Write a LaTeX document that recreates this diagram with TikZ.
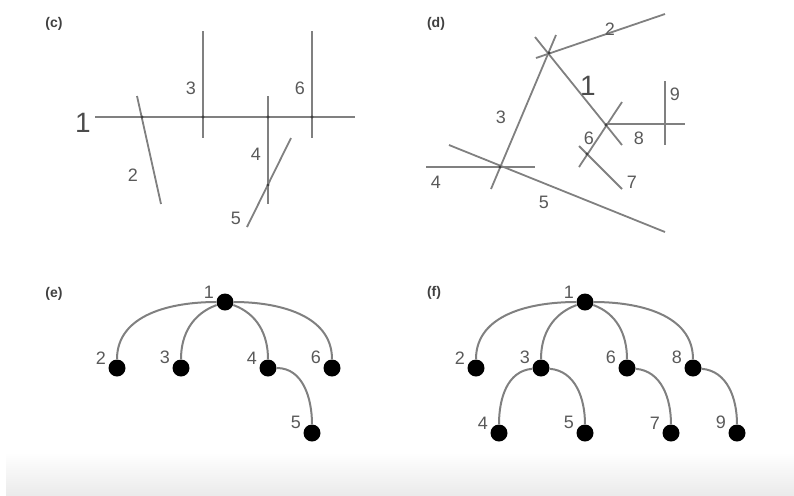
\documentclass[tikz,border=0pt]{standalone}
\usepackage{fontspec}
\setmainfont{Liberation Sans}
\usetikzlibrary{positioning}

\begin{document}
\begin{tikzpicture}[
  x=0.5pt, y=-0.5pt,
  seg/.style={draw=black!50, line width=0.9pt},
  joint/.style={circle, fill=black!75, inner sep=0pt, minimum size=1.6pt},
  num/.style={text=black!65, inner sep=1pt, font=\fontsize{9}{10}\selectfont},
  bignum/.style={text=black!70, inner sep=1pt, font=\fontsize{14}{15}\selectfont},
  panel/.style={text=black!75, inner sep=1pt, font=\fontsize{7}{8}\selectfont\bfseries},
  dot/.style={circle, fill=black, inner sep=0pt, minimum size=8.5pt, label distance=2.8pt},
  lbl/.style={text=black!65, inner sep=1pt, font=\fontsize{9}{10}\selectfont},
  branch/.style={draw=black!50, line width=1pt}
]
\useasboundingbox (0,0) rectangle (794,495);
\shade[top color=white, bottom color=black!8] (6,452) rectangle (794,495);

% Panel labels
\node[panel] (pc) at (54,24) {(c)};
\node[panel] (pd) at (436,24) {(d)};
\node[panel] (pe) at (54,294) {(e)};
\node[panel] (pf) at (434,293) {(f)};

% (c) segments
\draw[seg] (95,117) -- (355,117);
\draw[seg] (137,96) -- (161,204);
\draw[seg] (203,31) -- (203,138);
\draw[seg] (268,96) -- (268,204);
\draw[seg] (247,227) -- (291,138);
\draw[seg] (312,31) -- (312,138);
\foreach \p in {(142,117),(203,117),(268,117),(312,117),(268,185)}
  \node[joint] at \p {};
\node[bignum] (c1) at (83,123) {1};
\node[num] (c2) at (133,175) {2};
\node[num] (c3) at (191,88) {3};
\node[num] (c4) at (256,154) {4};
\node[num] (c5) at (236,218) {5};
\node[num] (c6) at (300,88) {6};

% (d) segments
\draw[seg] (535,37) -- (622,145);
\draw[seg] (536,58) -- (665,14);
\draw[seg] (556,35) -- (491,189);
\draw[seg] (426,167) -- (535,167);
\draw[seg] (449,145) -- (665,232);
\draw[seg] (622,102) -- (579,167);
\draw[seg] (579,146) -- (622,189);
\draw[seg] (605,124) -- (685,124);
\draw[seg] (665,81) -- (665,145);
\foreach \p in {(549,53),(606,125),(500,167),(587,154)}
  \node[joint] at \p {};
\node[bignum] (d1) at (588,86) {1};
\node[num] (d2) at (610,29) {2};
\node[num] (d3) at (501,117) {3};
\node[num] (d4) at (436,182) {4};
\node[num] (d5) at (544,202) {5};
\node[num] (d6) at (589,138) {6};
\node[num] (d7) at (632,182) {7};
\node[num] (d8) at (639,138) {8};
\node[num] (d9) at (675,94) {9};

% (e) tree
\node[dot, label={[lbl]170:1}] (e1) at (225,302) {};
\node[dot, label={[lbl]170:2}] (e2) at (117,368) {};
\node[dot, label={[lbl]170:3}] (e3) at (181,368) {};
\node[dot, label={[lbl]170:4}] (e4) at (268,368) {};
\node[dot, label={[lbl]170:6}] (e6) at (332,368) {};
\node[dot, label={[lbl]170:5}] (e5) at (312,433) {};

\draw[branch] (e1) to[out=180, in=90] (e2);
\draw[branch] (e1) to[out=200, in=90] (e3);
\draw[branch] (e1) to[out=-20, in=90] (e4);
\draw[branch] (e1) to[out=0, in=90] (e6);
\draw[branch] (e4) to[out=0, in=90] (e5);

% (f) tree
\node[dot, label={[lbl]170:1}] (f1) at (585,302) {};
\node[dot, label={[lbl]170:2}] (f2) at (476,368) {};
\node[dot, label={[lbl]170:3}] (f3) at (541,368) {};
\node[dot, label={[lbl]170:6}] (f6) at (627,368) {};
\node[dot, label={[lbl]170:8}] (f8) at (693,368) {};
\node[dot, label={[lbl]170:4}] (f4) at (499,433) {};
\node[dot, label={[lbl]170:5}] (f5) at (585,433) {};
\node[dot, label={[lbl]170:7}] (f7) at (671,433) {};
\node[dot, label={[lbl]170:9}] (f9) at (737,433) {};

\draw[branch] (f1) to[out=180, in=90] (f2);
\draw[branch] (f1) to[out=200, in=90] (f3);
\draw[branch] (f1) to[out=-20, in=90] (f6);
\draw[branch] (f1) to[out=0, in=90] (f8);
\draw[branch] (f3) to[out=185, in=90] (f4);
\draw[branch] (f3) to[out=-5, in=90] (f5);
\draw[branch] (f6) to[out=-5, in=90] (f7);
\draw[branch] (f8) to[out=-5, in=90] (f9);

\end{tikzpicture}
\end{document}
